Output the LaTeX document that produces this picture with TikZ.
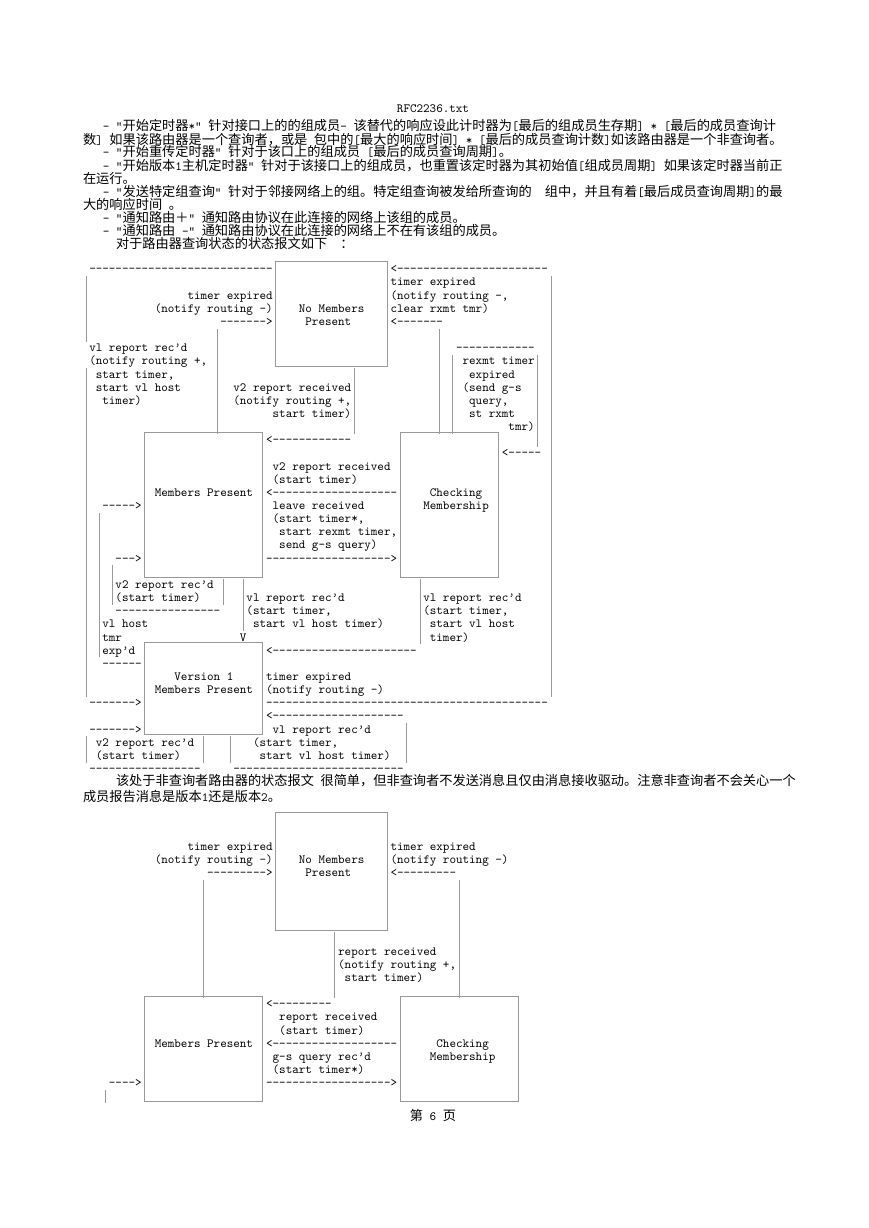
\documentclass[tikz,border=0pt]{standalone}
\usepackage{fontspec}
\usetikzlibrary{fit}
\newfontfamily\cjk{Noto Sans CJK SC}
\newfontfamily\asc{lmmono10-regular.otf}
\ExplSyntaxOn
\NewDocumentCommand\dsh{m}{\prg_replicate:nn{#1}{-\kern0pt}}
\ExplSyntaxOff
\newcommand\hx[1]{{\asc\fontsize{12.57}{13}\selectfont#1}}
\newcommand\hsp{\hspace*{6.6pt}}
\newcommand\cX[1]{82.7+6.55*(#1)}
\newcommand\rA[1]{269.5+13.15*(#1)}
\newcommand\rB[1]{833.55+13.15*(#1)}
\newcommand\tA[4]{\node[lbl] (#1) at ({\cX{#2}},{\rA{#3}+3.3}) {#4};}
\newcommand\tB[4]{\node[lbl] (#1) at ({\cX{#2}},{\rB{#3}+3.3}) {#4};}
\newcommand\vA[3]{\draw[ln] ({\cX{#1+0.5}},{\rA{#2}-6.575}) -- ({\cX{#1+0.5}},{\rA{#3}+6.575});}
\newcommand\vB[3]{\draw[ln] ({\cX{#1+0.5}},{\rB{#2}-6.575}) -- ({\cX{#1+0.5}},{\rB{#3}+6.575});}
\newcommand\bA[5]{\coordinate (#1-a) at ({\cX{#2+0.5}},{\rA{#4}+5});\coordinate (#1-b) at ({\cX{#3+0.5}},{\rA{#5}+5});\node[boxst, fit=(#1-a)(#1-b)] (#1) {};}
\newcommand\bB[5]{\coordinate (#1-a) at ({\cX{#2+0.5}},{\rB{#4}+5});\coordinate (#1-b) at ({\cX{#3+0.5}},{\rB{#5}+5});\node[boxst, fit=(#1-a)(#1-b)] (#1) {};}
\tikzset{
  lbl/.style={anchor=base west, inner sep=0pt, outer sep=0pt, font=\asc\fontsize{12.48}{13}\selectfont, text=black},
  cjkl/.style={anchor=base west, inner sep=0pt, outer sep=0pt, font=\cjk\fontsize{13.2}{14}\selectfont, text=black},
  ln/.style={draw=black!40, line width=0.9pt},
  boxst/.style={draw=black!40, line width=0.9pt, inner sep=0pt, outer sep=0pt, rectangle}
}
\begin{document}
\begin{tikzpicture}[x=1pt,y=-1pt]
\fill[white] (0,0) rectangle (869,1228);
\path[use as bounding box] (0,0) rectangle (869,1228);
% header
\node[lbl, anchor=base] (hdr) at (433,113) {RFC2236.txt};
% text lines
\node[cjkl] (c1) at (83,131) {\hsp\hsp\hsp\hx{-}\hsp\hx{"}开始定时器\hx{*"}\hsp 针对接口上的的组成员\hx{-}\hsp 该替代的响应设此计时器为\hx{[}最后的组成员生存期\hx{]}\hsp\hx{*}\hsp\hx{[}最后的成员查询计};
\node[cjkl] (c2) at (83,144) {数\hx{]}\hsp 如果该路由器是一个查询者，或是\hsp 包中的\hx{[}最大的响应时间\hx{]}\hsp\hx{*}\hsp\hx{[}最后的成员查询计数\hx{]}如该路由器是一个非查询者。};
\node[cjkl] (c3) at (83,157) {\hsp\hsp\hsp\hx{-}\hsp\hx{"}开始重传定时器\hx{"}\hsp 针对于该口上的组成员\hsp\hx{[}最后的成员查询周期\hx{]}。};
\node[cjkl] (c4) at (83,170) {\hsp\hsp\hsp\hx{-}\hsp\hx{"}开始版本\hx{1}主机定时器\hx{"}\hsp 针对于该接口上的组成员，也重置该定时器为其初始值\hx{[}组成员周期\hx{]}\hsp 如果该定时器当前正};
\node[cjkl] (c5) at (83,183) {在运行。};
\node[cjkl] (c6) at (83,196) {\hsp\hsp\hsp\hx{-}\hsp\hx{"}发送特定组查询\hx{"}\hsp 针对于邻接网络上的组。特定组查询被发给所查询的\hsp\hsp 组中，并且有着\hx{[}最后成员查询周期\hx{]}的最};
\node[cjkl] (c7) at (83,209) {大的响应时间\hsp 。};
\node[cjkl] (c8) at (83,222) {\hsp\hsp\hsp\hx{-}\hsp\hx{"}通知路由＋\hx{"}\hsp 通知路由协议在此连接的网络上该组的成员。};
\node[cjkl] (c9) at (83,235) {\hsp\hsp\hsp\hx{-}\hsp\hx{"}通知路由\hsp\hx{-"}\hsp 通知路由协议在此连接的网络上不在有该组的成员。};
\node[cjkl] (c10) at (83,248) {\hsp\hsp\hsp\hsp\hsp 对于路由器查询状态的状态报文如下\hsp\hsp ：};
\node[cjkl] (c11) at (83,785) {\hsp\hsp\hsp\hsp\hsp 该处于非查询者路由器的状态报文\hsp 很简单，但非查询者不发送消息且仅由消息接收驱动。注意非查询者不会关心一个};
\node[cjkl] (c12) at (83,801) {成员报告消息是版本\hx{1}还是版本\hx{2}。};
\node[cjkl, anchor=base] (foot) at (433,1120) {第\hsp\hx{6}\hsp 页};
% ===== diagram 1 =====
\bA{nm1}{29}{46}{-1}{7}
\bA{mp1}{9}{27}{12}{23}
\bA{cm1}{48}{63}{12}{23}
\bA{vm1}{9}{27}{28}{35}
\vA{0}{1}{5} \vA{0}{8}{32} \vA{0}{36}{37}
\vA{20}{5}{12} \vA{41}{8}{12} \vA{54}{5}{12} \vA{56}{7}{12}
\vA{69}{7}{13} \vA{71}{1}{32} \vA{2}{19}{29} \vA{4}{23}{25}
\vA{21}{24}{25} \vA{24}{24}{27} \vA{51}{24}{28} \vA{49}{35}{37}
\vA{22}{36}{37} \vA{18}{36}{37}
\tA{t1}{33}{3}{No Members}
\tA{t2}{34}{4}{Present}
\tA{t3}{11}{17}{Members Present}
\tA{t4}{53}{17}{Checking}
\tA{t5}{52}{18}{Membership}
\tA{t6}{14}{31}{Version 1}
\tA{t7}{11}{32}{Members Present}
\tA{a0}{1}{0}{\dsh{28}}
\tA{a1}{47}{0}{<\dsh{23}}
\tA{a2}{47}{1}{timer expired}
\tA{a3}{16}{2}{timer expired}
\tA{a4}{47}{2}{(notify routing -,}
\tA{a5}{11}{3}{(notify routing -)}
\tA{a6}{47}{3}{clear rxmt tmr)}
\tA{a7}{21}{4}{\dsh{7}>}
\tA{a8}{47}{4}{<\dsh{7}}
\tA{a9}{1}{6}{vl report rec’d}
\tA{a10}{57}{6}{\dsh{12}}
\tA{a11}{1}{7}{(notify routing +,}
\tA{a12}{58}{7}{rexmt timer}
\tA{a13}{2}{8}{start timer,}
\tA{a14}{59}{8}{expired}
\tA{a15}{2}{9}{start vl host}
\tA{a16}{23}{9}{v2 report received}
\tA{a17}{58}{9}{(send g-s}
\tA{a18}{3}{10}{timer)}
\tA{a19}{23}{10}{(notify routing +,}
\tA{a20}{59}{10}{query,}
\tA{a21}{29}{11}{start timer)}
\tA{a22}{59}{11}{st rxmt}
\tA{a23}{65}{12}{tmr)}
\tA{a24}{28}{13}{<\dsh{12}}
\tA{a25}{64}{14}{<\dsh{5}}
\tA{a26}{29}{15}{v2 report received}
\tA{a27}{29}{16}{(start timer)}
\tA{a28}{28}{17}{<\dsh{19}}
\tA{a29}{3}{18}{\dsh{5}>}
\tA{a30}{29}{18}{leave received}
\tA{a31}{29}{19}{(start timer*,}
\tA{a32}{30}{20}{start rexmt timer,}
\tA{a33}{30}{21}{send g-s query)}
\tA{a34}{5}{22}{\dsh{3}>}
\tA{a35}{28}{22}{\dsh{19}>}
\tA{a36}{5}{24}{v2 report rec’d}
\tA{a37}{5}{25}{(start timer)}
\tA{a38}{25}{25}{vl report rec’d}
\tA{a39}{52}{25}{vl report rec’d}
\tA{a40}{5}{26}{\dsh{16}}
\tA{a41}{25}{26}{(start timer,}
\tA{a42}{52}{26}{(start timer,}
\tA{a43}{3}{27}{vl host}
\tA{a44}{26}{27}{start vl host timer)}
\tA{a45}{53}{27}{start vl host}
\tA{a46}{3}{28}{tmr}
\tA{a47}{24}{28}{V}
\tA{a48}{53}{28}{timer)}
\tA{a49}{3}{29}{exp’d}
\tA{a50}{28}{29}{<\dsh{22}}
\tA{a51}{3}{30}{\dsh{6}}
\tA{a52}{28}{31}{timer expired}
\tA{a53}{28}{32}{(notify routing -)}
\tA{a54}{1}{33}{\dsh{7}>}
\tA{a55}{28}{33}{\dsh{43}}
\tA{a56}{28}{34}{<\dsh{20}}
\tA{a57}{1}{35}{\dsh{7}>}
\tA{a58}{29}{35}{vl report rec’d}
\tA{a59}{2}{36}{v2 report rec’d}
\tA{a60}{26}{36}{(start timer,}
\tA{a61}{2}{37}{(start timer)}
\tA{a62}{27}{37}{start vl host timer)}
\tA{a63}{1}{38}{\dsh{17}}
\tA{a64}{23}{38}{\dsh{26}}
% ===== diagram 2 =====
\bB{nm2}{29}{46}{-2}{7}
\bB{mp2}{9}{27}{12}{20}
\bB{cm2}{48}{66}{12}{20}
\vB{18}{4}{12} \vB{57}{4}{12} \vB{38}{8}{12} \vB{3}{20}{20}
\tB{u1}{33}{2}{No Members}
\tB{u2}{34}{3}{Present}
\tB{u3}{11}{16}{Members Present}
\tB{u4}{54}{16}{Checking}
\tB{u5}{53}{17}{Membership}
\tB{b1}{16}{1}{timer expired}
\tB{b2}{47}{1}{timer expired}
\tB{b3}{11}{2}{(notify routing -)}
\tB{b4}{47}{2}{(notify routing -)}
\tB{b5}{19}{3}{\dsh{9}>}
\tB{b6}{47}{3}{<\dsh{9}}
\tB{b7}{39}{9}{report received}
\tB{b8}{39}{10}{(notify routing +,}
\tB{b9}{40}{11}{start timer)}
\tB{b10}{28}{13}{<\dsh{9}}
\tB{b11}{30}{14}{report received}
\tB{b12}{30}{15}{(start timer)}
\tB{b13}{28}{16}{<\dsh{19}}
\tB{b14}{29}{17}{g-s query rec’d}
\tB{b15}{29}{18}{(start timer*)}
\tB{b16}{4}{19}{\dsh{4}>}
\tB{b17}{28}{19}{\dsh{19}>}
\end{tikzpicture}
\end{document}
